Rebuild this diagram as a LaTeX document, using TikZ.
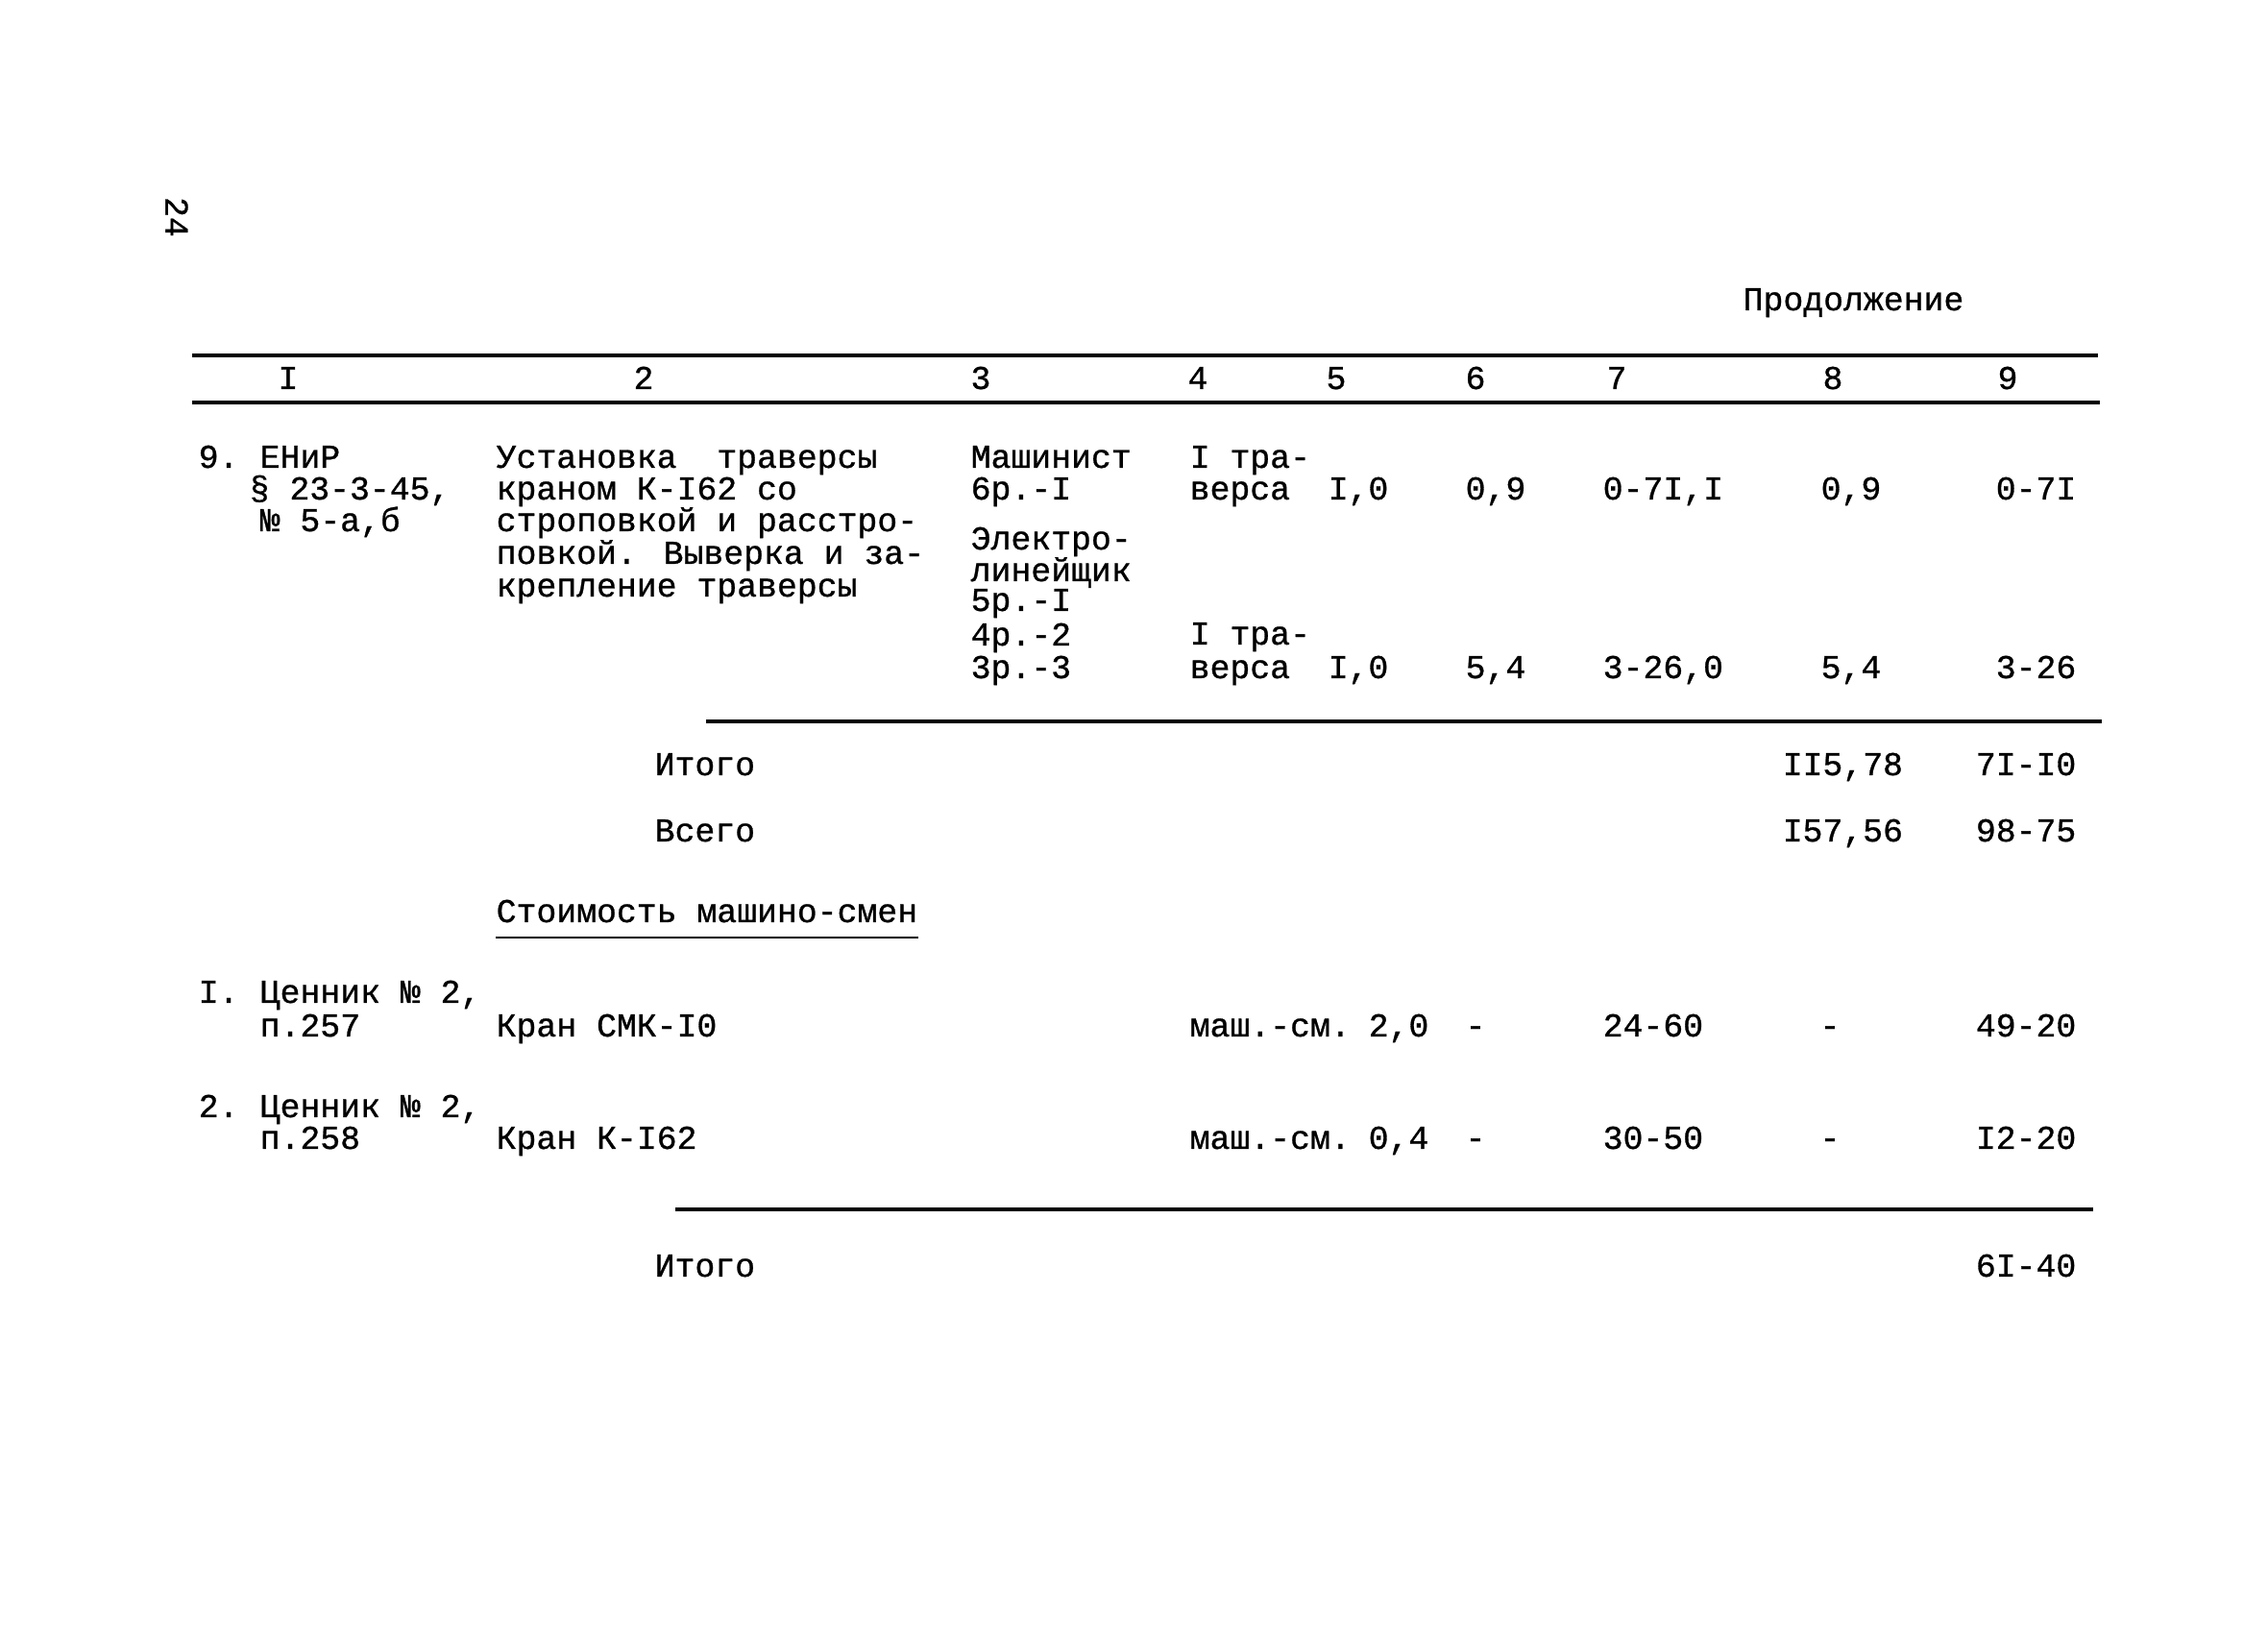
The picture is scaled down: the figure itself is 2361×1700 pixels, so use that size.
\documentclass[tikz,border=0pt]{standalone}
\usepackage{fontspec}
\newfontfamily\tw[FakeBold=0.8]{Liberation Mono}
\usetikzlibrary{calc}
\tikzset{
  tx/.style={inner sep=0pt, font=\tw\fontsize{9.9}{9.5}\selectfont},
  tl/.style={tx, anchor=base west},
  tr/.style={tx, anchor=base east},
  tc/.style={tx, anchor=base},
  rule/.style={line width=0.9pt, black},
}
\begin{document}
\begin{tikzpicture}[x=0.1mm, y=-0.1mm]
\useasboundingbox (0,0) rectangle (2361,1700);
% page number
\node[tx, rotate=-90] (pg) at (184,226) {24};
\node[tl] (cont) at (1814,323) {Продолжение};
% header rules
\coordinate (h1a) at (200,370); \coordinate (h1b) at (2184,370);
\coordinate (h2a) at (200,419); \coordinate (h2b) at (2186,419);
\draw[rule] (h1a) -- (h1b);
\draw[rule] (h2a) -- (h2b);
% header numbers
\node[tc] (c1) at (300,405) {I};
\node[tc] (c2) at (670,405) {2};
\node[tc] (c3) at (1021,405) {3};
\node[tc] (c4) at (1247,405) {4};
\node[tc] (c5) at (1391,405) {5};
\node[tc] (c6) at (1536,405) {6};
\node[tc] (c7) at (1683,405) {7};
\node[tc] (c8) at (1908,405) {8};
\node[tc] (c9) at (2090,405) {9};
% row 9
\node[tl] (n9) at (206,487) {9.};
\node[tl] (r9a) at (270,487) {ЕНиР};
\node[tl] (r9b) at (259,520) {§ 23-3-45,};
\node[tl] (r9c) at (270,553) {№ 5-а,б};
\node[tl] (d1) at (516,487) {Установка\ \ траверсы};
\node[tl] (d2) at (516,520) {краном К-I62 со};
\node[tl] (d3) at (516,553) {строповкой и расстро-};
\node[tl] (d4) at (516,587) {повкой. Выверка и за-};
\node[tl] (d5) at (516,621) {крепление траверсы};
\node[tl] (w1) at (1010,487) {Машинист};
\node[tl] (w2) at (1010,520) {6р.-I};
\node[tl] (w3) at (1010,572) {Электро-};
\node[tl] (w4) at (1010,605) {линейщик};
\node[tl] (w5) at (1010,636) {5р.-I};
\node[tl] (w6) at (1010,672) {4р.-2};
\node[tl] (w7) at (1010,706) {3р.-3};
\node[tl] (u1) at (1238,487) {I тра-};
\node[tl] (u2) at (1238,520) {верса};
\node[tl] (u3) at (1238,671) {I тра-};
\node[tl] (u4) at (1238,706) {верса};
\node[tl] (q1) at (1382,520) {I,0};
\node[tl] (q2) at (1382,706) {I,0};
\node[tc] (h1) at (1557,520) {0,9};
\node[tc] (h2) at (1557,706) {5,4};
\node[tl] (p1) at (1668,520) {0-7I,I};
\node[tl] (p2) at (1668,706) {3-26,0};
\node[tc] (t1) at (1927,520) {0,9};
\node[tc] (t2) at (1927,706) {5,4};
\node[tr] (s1) at (2162,520) {0-7I};
\node[tr] (s2) at (2162,706) {3-26};
% rule under row 9
\coordinate (l1a) at (735,751); \coordinate (l1b) at (2188,751);
\draw[rule] (l1a) -- (l1b);
% totals
\node[tl] (it1) at (681,807) {Итого};
\node[tl] (it1h) at (1855,807) {II5,78};
\node[tr] (it1s) at (2162,807) {7I-I0};
\node[tl] (vs) at (681,876) {Всего};
\node[tl] (vsh) at (1855,876) {I57,56};
\node[tr] (vss) at (2162,876) {98-75};
% machine shifts
\node[tl] (st) at (516,960) {Стоимость машино-смен};
\draw[line width=0.8pt] ($(st.base west)+(0,16)$) -- ($(st.base east)+(0,16)$);
\node[tl] (m1n) at (206,1044) {I.};
\node[tl] (m1a) at (270,1044) {Ценник № 2,};
\node[tl] (m1b) at (270,1079) {п.257};
\node[tl] (m1d) at (516,1079) {Кран СМК-I0};
\node[tl] (m1u) at (1238,1079) {маш.-см.};
\node[tl] (m1q) at (1424,1079) {2,0};
\node[tc] (m1h) at (1536,1079) {-};
\node[tl] (m1p) at (1668,1079) {24-60};
\node[tc] (m1t) at (1905,1079) {-};
\node[tr] (m1s) at (2162,1079) {49-20};
\node[tl] (m2n) at (206,1163) {2.};
\node[tl] (m2a) at (270,1163) {Ценник № 2,};
\node[tl] (m2b) at (270,1196) {п.258};
\node[tl] (m2d) at (516,1196) {Кран К-I62};
\node[tl] (m2u) at (1238,1196) {маш.-см.};
\node[tl] (m2q) at (1424,1196) {0,4};
\node[tc] (m2h) at (1536,1196) {-};
\node[tl] (m2p) at (1668,1196) {30-50};
\node[tc] (m2t) at (1905,1196) {-};
\node[tr] (m2s) at (2162,1196) {I2-20};
\coordinate (l2a) at (703,1259); \coordinate (l2b) at (2179,1259);
\draw[rule] (l2a) -- (l2b);
\node[tl] (it2) at (681,1329) {Итого};
\node[tr] (it2s) at (2162,1329) {6I-40};
\end{tikzpicture}
\end{document}
